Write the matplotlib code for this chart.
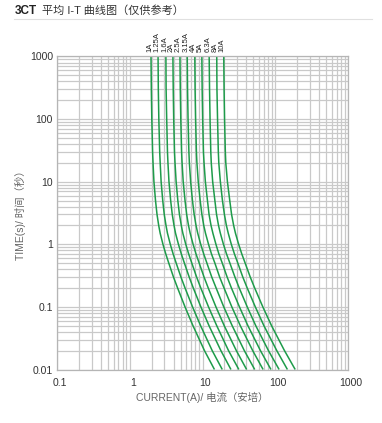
import matplotlib
matplotlib.use("Agg")
import matplotlib.pyplot as plt
from matplotlib.lines import Line2D
from matplotlib.ticker import LogLocator, FixedLocator, NullFormatter
from matplotlib.transforms import ScaledTranslation

plt.rcParams['font.family'] = ['Liberation Sans', 'Noto Sans CJK SC', 'DejaVu Sans']

# Time axis points (s) at which each curve's current (A) was read
times = [1000, 300, 100, 30, 20, 10, 5, 3, 2, 1.5, 1, 0.7, 0.5, 0.3, 0.2, 0.1, 0.05, 0.02, 0.01]

ratings = ["1A", "1.25A", "1.6A", "2A", "2.5A", "3.15A", "4A", "5A", "6.3A", "8A", "10A"]

i_1A    = [1.96, 1.98, 2.01, 2.06, 2.09, 2.15, 2.26, 2.37, 2.50, 2.62, 2.86, 3.13, 3.44, 3.99, 4.55, 5.75, 7.40, 10.65, 14.6]
i_1_25A = [2.45, 2.47, 2.51, 2.58, 2.62, 2.70, 2.84, 2.98, 3.15, 3.30, 3.61, 3.95, 4.35, 5.05, 5.76, 7.30, 9.42, 13.6, 18.7]
i_1_6A  = [3.14, 3.16, 3.22, 3.30, 3.35, 3.46, 3.65, 3.84, 4.06, 4.26, 4.67, 5.12, 5.64, 6.56, 7.48, 9.50, 12.3, 17.9, 24.6]
i_2A    = [3.92, 3.96, 4.02, 4.12, 4.19, 4.34, 4.58, 4.82, 5.11, 5.37, 5.89, 6.46, 7.13, 8.30, 9.48, 12.1, 15.7, 22.8, 31.6]
i_2_5A  = [4.90, 4.95, 5.03, 5.16, 5.24, 5.43, 5.75, 6.06, 6.42, 6.77, 7.43, 8.15, 9.01, 10.5, 12.0, 15.3, 19.9, 29.2, 40.4]
i_3_15A = [6.17, 6.23, 6.33, 6.50, 6.60, 6.87, 7.28, 7.68, 8.15, 8.60, 9.45, 10.4, 11.5, 13.4, 15.4, 19.6, 25.6, 37.6, 52.2]
i_4A    = [7.84, 7.91, 8.04, 8.25, 8.38, 8.74, 9.29, 9.81, 10.4, 11.0, 12.1, 13.3, 14.8, 17.2, 19.8, 25.3, 33.1, 49.0, 68.1]
i_5A    = [9.80, 9.89, 10.05, 10.3, 10.5, 10.95, 11.7, 12.3, 13.1, 13.9, 15.3, 16.8, 18.7, 21.8, 25.0, 32.2, 42.1, 62.6, 87.3]
i_6_3A  = [12.35, 12.5, 12.7, 13.0, 13.2, 13.8, 14.8, 15.6, 16.6, 17.6, 19.4, 21.4, 23.8, 27.9, 32.0, 41.2, 54.0, 80.7, 113]
i_8A    = [15.7, 15.8, 16.1, 16.5, 16.75, 17.6, 18.8, 20.0, 21.3, 22.6, 24.9, 27.5, 30.6, 35.8, 41.2, 53.2, 69.9, 105, 147]
i_10A   = [19.6, 19.8, 20.1, 20.6, 20.9, 22.0, 23.7, 25.1, 26.8, 28.4, 31.4, 34.7, 38.6, 45.3, 52.2, 67.5, 89.0, 134, 188]

curves = [i_1A, i_1_25A, i_1_6A, i_2A, i_2_5A, i_3_15A, i_4A, i_5A, i_6_3A, i_8A, i_10A]

x_ticks = [0.1, 1, 10, 100, 1000]
x_tick_labels = ["0.1", "1", "10", "100", "1000"]
y_ticks = [0.01, 0.1, 1, 10, 100, 1000]
y_tick_labels = ["0.01", "0.1", "1", "10", "100", "1000"]

W, H = 382, 423
fig = plt.figure(figsize=(W / 100, H / 100), dpi=100)
ax = fig.add_axes([57 / W, 1 - 369.5 / H, (348 - 57) / W, (369.5 - 56.5) / H])

ax.set_xscale('log')
ax.set_yscale('log')
ax.set_xlim(0.1, 1000)
ax.set_ylim(0.01, 1000)

grid_color = '#c9c9c9'
ax.xaxis.set_major_locator(FixedLocator(x_ticks))
ax.yaxis.set_major_locator(FixedLocator(y_ticks))
ax.xaxis.set_minor_locator(LogLocator(base=10, subs=range(2, 10), numticks=20))
ax.yaxis.set_minor_locator(LogLocator(base=10, subs=range(2, 10), numticks=20))
ax.xaxis.set_minor_formatter(NullFormatter())
ax.yaxis.set_minor_formatter(NullFormatter())
ax.set_xticklabels(x_tick_labels)
ax.set_yticklabels(y_tick_labels)
ax.grid(True, which='both', color=grid_color, linewidth=0.9)
ax.tick_params(which='both', length=0)
ax.tick_params(axis='x', pad=6, labelsize=7.5, labelcolor='#333333')
ax.tick_params(axis='y', pad=3, labelsize=7.5, labelcolor='#333333')
shift = ScaledTranslation(3 / 100, 0, fig.dpi_scale_trans)
for lbl in ax.get_xticklabels():
    lbl.set_transform(lbl.get_transform() + shift)
for s in ax.spines.values():
    s.set_color('#b5b5b5')
    s.set_linewidth(0.9)

green = '#1e9b4a'
for cur, lab in zip(curves, ratings):
    ax.plot(cur, times, color=green, linewidth=1.1, solid_capstyle='butt', clip_on=True)
    ax.annotate(lab, xy=(cur[0], 1000), xytext=(-1, 3), textcoords='offset points',
                rotation=90, ha='center', va='bottom', fontsize=5.5, color='#222222')

ax.set_xlabel("CURRENT(A)/ 电流（安培）", fontsize=7.5, color='#666666', labelpad=3)
ax.set_ylabel("TIME(s)/ 时间（秒）", fontsize=7.5, color='#666666', labelpad=3)

fig.text(15 / W, 1 - 11 / H, "3CT", fontsize=8.5, fontweight='bold', color='#222222',
         va='center', ha='left')
fig.text(42 / W, 1 - 11 / H, "平均 I-T 曲线图（仅供参考）", fontsize=8, color='#333333',
         va='center', ha='left')
fig.add_artist(Line2D([14 / W, 372 / W], [1 - 19.5 / H, 1 - 19.5 / H],
                      color='#e0e0e0', linewidth=0.8))

fig.savefig("out.png", dpi=100)
